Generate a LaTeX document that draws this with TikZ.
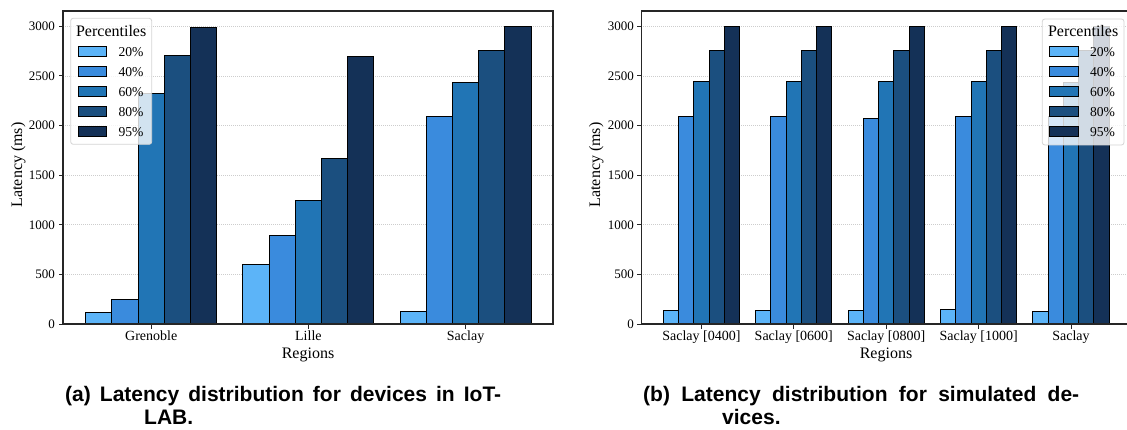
\documentclass[tikz,border=0pt]{standalone}
\usepackage{fontspec}
\setmainfont{Liberation Serif}
\newfontfamily\capfont{Liberation Sans}

\definecolor{pc20}{RGB}{92,180,248}
\definecolor{pc40}{RGB}{58,139,221}
\definecolor{pc60}{RGB}{33,117,181}
\definecolor{pc80}{RGB}{27,79,127}
\definecolor{pc95}{RGB}{20,49,87}
\definecolor{gridgray}{RGB}{205,205,205}
\definecolor{legframe}{RGB}{212,212,212}

\tikzset{
  barstyle/.style={draw=black, line width=0.9pt},
  gridline/.style={draw=gridgray, line width=0.7pt, dash pattern=on 0.7pt off 1.3pt},
  frame/.style={draw=black!85, line width=1.1pt},
  tickline/.style={draw=black!85, line width=0.9pt},
  ytick/.style={anchor=base east, inner sep=0, font=\fontsize{13}{13}\selectfont},
  xtick/.style={anchor=base, inner sep=0, font=\fontsize{14}{14}\selectfont},
  axlabel/.style={anchor=base, inner sep=0, font=\fontsize{16}{16}\selectfont},
  legbox/.style={draw=legframe, line width=0.8pt, fill=white, fill opacity=0.8, rounded corners=2.5pt},
  legtitle/.style={anchor=base, inner sep=0, font=\fontsize{16}{16}\selectfont},
  legtext/.style={anchor=base west, inner sep=0, font=\fontsize{13.6}{13.6}\selectfont},
  captext/.style={anchor=base west, inner sep=0, font=\capfont\bfseries\fontsize{21}{21}\selectfont},
}

% one group of five percentile bars: #1 centre, #2 bar width, #3 value/colour list
\newcommand\drawbars[3]{%
  \foreach \v/\c [count=\j from 0] in {#3}{%
    \pgfmathsetmacro\xl{#1+(\j-2.5)*#2}%
    \pgfmathsetmacro\xr{\xl+#2}%
    \pgfmathsetmacro\yt{324-\v*0.09923}%
    \draw[barstyle, fill=\c] (\xl,324) rectangle (\xr,\yt);
  }}

% legend box: #1 left, #2 right, #3 top, #4 bottom, #5 name prefix
\newcommand\drawlegend[5]{%
  \draw[legbox] (#1,#3) rectangle (#2,#4);
  \node[legtitle] (#5-title) at ({(#1+#2)/2},36.6) {Percentiles};
  \foreach \lab/\c [count=\k from 0] in {20\%/pc20,40\%/pc40,60\%/pc60,80\%/pc80,95\%/pc95}{%
    \pgfmathsetmacro\yy{51.5+20*\k}%
    \draw[barstyle, fill=\c] (#1+7.6,\yy-5) rectangle (#1+36,\yy+5);
    \node[legtext] (#5-\k) at (#1+47.6,\yy+4.6) {\lab};
  }}

\begin{document}
\begin{tikzpicture}[x=1pt, y=-1pt]
\useasboundingbox (0,0) rectangle (1127,430);
\clip (0,0) rectangle (1127,430);

% ---------------- left panel: IoT-LAB devices ----------------
\foreach \t in {500,1000,...,3000}{
  \pgfmathsetmacro\yy{324-\t*0.09923}
  \draw[gridline] (63,\yy) -- (553,\yy);
}
\drawbars{151.2}{26.2}{121/pc20,252/pc40,2325/pc60,2711/pc80,2986/pc95}
\drawbars{308.4}{26.2}{605/pc20,897/pc40,1250/pc60,1673/pc80,2701/pc95}
\drawbars{465.6}{26.2}{131/pc20,2089/pc40,2436/pc60,2758/pc80,3003/pc95}
\draw[frame] (63,11) rectangle (553,324);
\foreach \t in {0,500,...,3000}{
  \pgfmathsetmacro\yy{324-\t*0.09923}
  \draw[tickline] (63,\yy) -- (58.5,\yy);
  \node[ytick] (ya-\t) at (55,\yy+4.3) {\t};
}
\foreach \cx/\lab [count=\i] in {151.2/Grenoble,308.4/Lille,465.6/Saclay}{
  \draw[tickline] (\cx,324) -- (\cx,328.5);
  \node[xtick] (xa-\i) at (\cx,340.7) {\lab};
}
\node[axlabel] (xla) at (308,358) {Regions};
\node[axlabel, rotate=90] (yla) at (22,165) {Latency (ms)};
\drawlegend{70.7}{151.7}{18.3}{144.3}{la}

% ---------------- right panel: simulated devices ----------------
\foreach \t in {500,1000,...,3000}{
  \pgfmathsetmacro\yy{324-\t*0.09923}
  \draw[gridline] (641.3,\yy) -- (1127,\yy);
}
\drawbars{701.4}{15.25}{141/pc20,2090/pc40,2440/pc60,2760/pc80,3003/pc95}
\drawbars{793.8}{15.25}{141/pc20,2090/pc40,2440/pc60,2760/pc80,3003/pc95}
\drawbars{886.2}{15.25}{141/pc20,2075/pc40,2440/pc60,2760/pc80,3003/pc95}
\drawbars{978.6}{15.25}{150/pc20,2090/pc40,2440/pc60,2760/pc80,3003/pc95}
\drawbars{1071.0}{15.25}{131/pc20,2089/pc40,2436/pc60,2758/pc80,3003/pc95}
\draw[frame] (1130,11) -- (641.3,11) -- (641.3,324) -- (1130,324);
\foreach \t in {0,500,...,3000}{
  \pgfmathsetmacro\yy{324-\t*0.09923}
  \draw[tickline] (641.3,\yy) -- (636.8,\yy);
  \node[ytick] (yb-\t) at (634,\yy+4.3) {\t};
}
\foreach \cx/\lab [count=\i] in {701.4/{Saclay [0400]},793.8/{Saclay [0600]},886.2/{Saclay [0800]},978.6/{Saclay [1000]},1071.0/Saclay}{
  \draw[tickline] (\cx,324) -- (\cx,328.5);
  \node[xtick] (xb-\i) at (\cx,340.7) {\lab};
}
\node[axlabel] (xlb) at (886,358) {Regions};
\node[axlabel, rotate=90] (ylb) at (600,165) {Latency (ms)};
\drawlegend{1042.3}{1124}{19}{145}{lb}

% ---------------- sub-captions ----------------
\node[captext] (capa1) at (65,401) {\makebox[436pt][s]{(a) Latency distribution for devices in IoT-}};
\node[captext] (capa2) at (144,424.5) {LAB.};
\node[captext] (capb1) at (643,401) {\makebox[436pt][s]{(b) Latency distribution for simulated de-}};
\node[captext] (capb2) at (722,424.5) {vices.};
\end{tikzpicture}
\end{document}
